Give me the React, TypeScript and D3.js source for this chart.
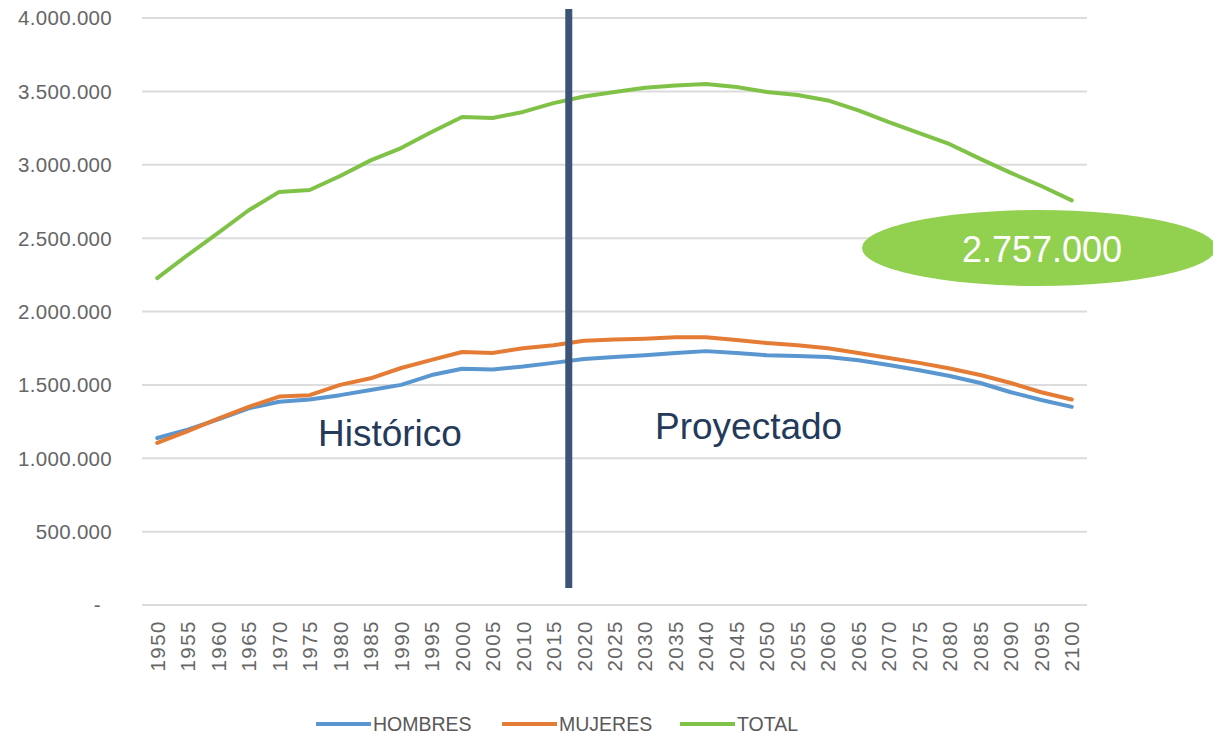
import React from "react";
import * as d3 from "d3";

const years = [
  "1950","1955","1960","1965","1970","1975","1980","1985","1990","1995","2000",
  "2005","2010","2015","2020","2025","2030","2035","2040","2045","2050","2055",
  "2060","2065","2070","2075","2080","2085","2090","2095","2100",
];

const hombres = [
  1138000, 1195000, 1265000, 1340000, 1385000, 1400000, 1430000, 1465000, 1500000, 1567000, 1610000,
  1605000, 1625000, 1650000, 1676000, 1690000, 1702000, 1717000, 1730000, 1717000, 1702000, 1697000,
  1690000, 1668000, 1635000, 1600000, 1560000, 1513000, 1450000, 1397000, 1350000,
];

const mujeres = [
  1104000, 1185000, 1270000, 1350000, 1420000, 1430000, 1500000, 1545000, 1615000, 1670000, 1724000,
  1717000, 1750000, 1770000, 1800000, 1810000, 1815000, 1824000, 1824000, 1806000, 1785000, 1770000,
  1750000, 1717000, 1683000, 1650000, 1612000, 1567000, 1513000, 1450000, 1400000,
];

const total = [
  2228000, 2385000, 2535000, 2690000, 2815000, 2828000, 2923000, 3030000, 3114000, 3223000, 3325000,
  3318000, 3360000, 3420000, 3465000, 3496000, 3525000, 3540000, 3550000, 3530000, 3496000, 3475000,
  3438000, 3370000, 3290000, 3216000, 3140000, 3040000, 2945000, 2855000, 2757000,
];

const yTicks = [0, 500000, 1000000, 1500000, 2000000, 2500000, 3000000, 3500000, 4000000];
const yTickLabels = ["-", "500.000", "1.000.000", "1.500.000", "2.000.000", "2.500.000", "3.000.000", "3.500.000", "4.000.000"];

const seriesNames = ["HOMBRES", "MUJERES", "TOTAL"];
const calloutLabel = "2.757.000";
const historicLabel = "Histórico";
const projectedLabel = "Proyectado";
const splitAfter = "2015";
const splitBefore = "2020";

const colors = ["#5a96cf", "#e57c35", "#80c248"];
const font = "'Liberation Sans', Arial, sans-serif";

export default function App() {
  const W = 1213;
  const H = 740;
  const x = d3.scaleBand<string>().domain(years).range([142, 1087]);
  const cx = (k: string) => (x(k) as number) + x.bandwidth() / 2;
  const y = d3.scaleLinear().domain([0, 4000000]).range([605, 18]);

  const line = d3
    .line<number>()
    .x((_, i) => cx(years[i]))
    .y((v) => y(v));

  const data = [hombres, mujeres, total];
  const splitX = (cx(splitAfter) + cx(splitBefore)) / 2;

  const legendItems = [
    { x: 316, label: seriesNames[0], color: colors[0] },
    { x: 502, label: seriesNames[1], color: colors[1] },
    { x: 680, label: seriesNames[2], color: colors[2] },
  ];

  return (
    <svg
      width={W}
      height={H}
      style={{ position: "absolute", left: 0, top: 0, background: "#fff" }}
      fontFamily={font}
    >
      {yTicks.map((t, i) => (
        <g key={t}>
          <line x1={142} x2={1087} y1={y(t)} y2={y(t)} stroke="#dcdcdc" strokeWidth={2} />
          <text
            x={i === 0 ? 101 : 112}
            y={y(t)}
            dy="0.36em"
            textAnchor="end"
            fontSize={20.5}
            letterSpacing={0.3}
            fill="#666"
          >
            {yTickLabels[i]}
          </text>
        </g>
      ))}

      {years.map((yr) => (
        <text
          key={yr}
          transform={`translate(${cx(yr)},620) rotate(-90)`}
          textAnchor="end"
          dominantBaseline="central"
          fontSize={20.5}
          letterSpacing={1.5}
          fill="#666"
        >
          {yr}
        </text>
      ))}

      {data.map((d, i) => (
        <path
          key={i}
          d={line(d) as string}
          fill="none"
          stroke={colors[i]}
          strokeWidth={4}
          strokeLinejoin="round"
          strokeLinecap="round"
        />
      ))}

      <line x1={splitX} x2={splitX} y1={9} y2={588} stroke="#3b5478" strokeWidth={7} />

      <text x={318} y={446} fontSize={37} fill="#243a5a">{historicLabel}</text>
      <text x={655} y={439} fontSize={37} fill="#243a5a">{projectedLabel}</text>

      <ellipse cx={1039} cy={248} rx={177} ry={38} fill="#92d050" />
      <text x={1042} y={262} textAnchor="middle" fontSize={36} fill="#fff">{calloutLabel}</text>

      {legendItems.map((it) => (
        <g key={it.label}>
          <line x1={it.x} x2={it.x + 55} y1={724} y2={724} stroke={it.color} strokeWidth={4} />
          <text x={it.x + 57} y={724} dy="0.36em" fontSize={19.5} fill="#595959">
            {it.label}
          </text>
        </g>
      ))}
    </svg>
  );
}
